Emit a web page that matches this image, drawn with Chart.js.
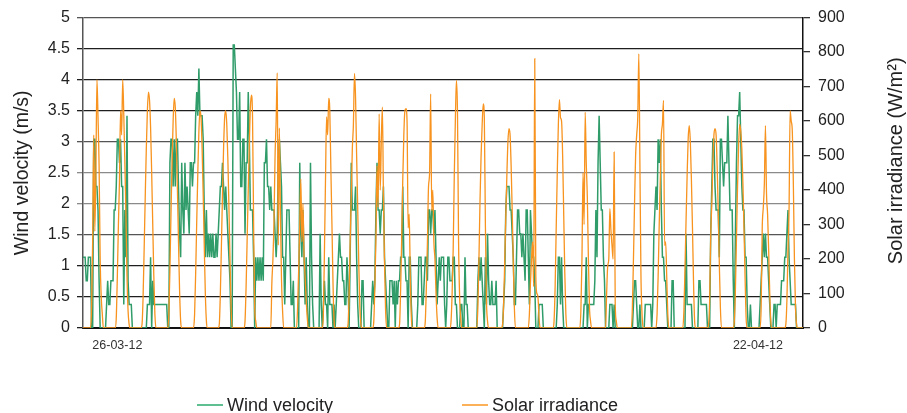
<!DOCTYPE html>
<html lang="en">
<head>
  <meta charset="UTF-8">
  <title>Wind velocity and solar irradiance</title>
  <style>
    body { margin: 0; background: #fff; }
    #wrap {
      position: relative;
      width: 907px;
      height: 413px;
      overflow: hidden;
      font-family: "Liberation Sans", Arial, sans-serif;
    }
    #chart { display: block; }
    .key {
      position: absolute;
      top: 396px;
      font-size: 18px;
      line-height: 18px;
      color: #222;
      white-space: nowrap;
    }
    .key i {
      position: absolute;
      left: -30px;
      top: 8px;
      width: 26px;
      height: 2px;
    }
  </style>
</head>
<body>
  <div id="wrap">
    <canvas id="chart" width="907" height="413"></canvas>
    <div class="key" style="left:227px"><i style="background:#5fbf90"></i>Wind velocity</div>
    <div class="key" style="left:492px"><i style="background:#fbb157"></i>Solar irradiance</div>
  </div>

  <script src="https://cdn.jsdelivr.net/npm/chart.js"></script>
  <script>
    // hourly readings, one row per day (24 values)
    const windVelocity = [
      1.14,1.14,1.14,0.76,0.76,1.14,1.14,1.14,0,0,3.04,3.04,2.28,2.28,1.9,0.76,0,0,0,0,0,0,0.38,0.76,
      0.38,0.38,0.76,0.76,0.76,1.9,1.9,2.28,3.04,3.04,2.66,3.04,2.28,2.28,0.38,1.9,1.14,3.42,0.76,0.38,0.38,0.38,0,0,
      0,0,0,0,0,0,0,0,0,0,0,0,0.38,0.38,0.38,1.14,0,0.76,0.38,0.38,0.38,0.38,0.38,0.38,
      0.38,0.38,0.38,0.38,0.38,0.38,0.38,0,0,2.66,3.04,3.04,2.28,3.04,2.28,3.04,3.04,2.28,1.52,1.14,2.66,1.9,1.52,2.66,
      1.9,2.28,1.9,1.52,2.66,2.66,2.28,2.66,2.66,3.42,3.8,3.42,4.18,3.42,3.42,3.42,3.04,1.9,1.14,1.9,1.14,1.52,1.14,1.52,
      1.14,1.52,1.14,1.14,1.52,1.14,1.52,1.9,2.28,2.28,2.66,2.28,1.9,2.28,1.9,1.52,1.14,0.76,0,0,4.56,4.56,4.18,3.8,
      3.04,3.04,3.8,2.28,2.28,3.04,3.04,1.52,2.66,2.66,3.8,3.04,1.9,1.9,1.9,1.14,0,1.14,0.76,1.14,0.76,1.14,0.76,1.14,
      0.76,2.66,2.66,3.04,2.28,2.28,1.9,2.28,1.9,1.9,1.9,1.52,1.14,1.52,2.66,3.04,2.66,2.28,1.14,1.14,0.38,1.14,1.9,1.9,
      1.9,1.14,0.38,0.38,0.76,0,0,0,0,0,2.66,1.52,1.14,1.9,1.14,0.38,1.14,0.38,0,0,2.66,1.14,0.38,0,
      0,0,0,0,0,1.52,0.38,0,0.38,0.76,0.38,0.38,0,1.14,0.38,0.38,0.38,0,0.38,0,0.38,0.76,1.14,1.52,
      1.14,1.14,0.76,0.76,0.38,0.38,1.14,0.76,0,1.14,2.66,1.9,1.9,1.9,2.28,1.14,0.38,0,0,0,0.76,0.76,0,0,
      0,0,0,0,0,0.38,0.76,0.38,0.76,1.9,2.66,1.9,1.9,1.52,1.9,1.9,2.28,1.14,0.76,0.38,0,0,0.76,0.76,
      0.76,0.38,0.76,0,0.76,0.38,0.76,0.76,1.14,1.14,2.28,1.14,1.14,0.76,0.76,0,1.14,1.14,0.38,0,0,0,0,0,
      0.38,1.14,1.14,1.14,0.38,0.38,0.76,1.14,1.14,0.76,1.9,1.9,1.52,1.9,1.9,1.52,1.9,1.14,0.38,0.76,1.14,0.76,1.14,1.14,
      1.14,0.38,0,0.38,1.14,1.14,0.76,0.76,0.76,1.14,1.14,0.38,0.38,0,0,0,0.38,0.38,0,0,1.14,0.38,0.38,0,
      0,0,0,0,0,0,0,0,0.76,1.14,0.76,1.14,0.76,0.38,0,1.14,0.38,1.52,0.76,0.38,0.38,0.76,0.38,0.38,
      0.38,0.76,0,0,0,0,0,0,0.38,0.76,1.9,2.28,2.28,2.28,1.9,1.9,1.52,1.14,0.38,0.38,1.14,1.9,1.9,1.52,
      1.52,1.14,1.52,1.14,0.76,1.9,1.9,1.14,0.38,1.9,1.52,1.14,1.14,0.76,0,0,0,0.38,0.38,0.38,0.38,0,0,0,
      0,0,0,0,0,0,0,0,0,0,0.38,1.14,1.14,0.38,1.14,0.38,0,0,0,0,0,0,0,0,
      0,0,0,0,0,0,0,0,0,0,0,0.38,0.38,1.14,0,0.38,0.38,0.38,0.38,0.38,0.38,0.76,1.9,1.14,
      2.66,3.42,2.66,1.9,1.9,1.14,0.76,0,0,0,0,0.38,0.38,0.38,0,0.38,0,0,0,0,0,0,0,0,
      0,0,0,0,0,0,0,0,0,0.38,0.76,0.76,0.38,0,0,0.38,0,0,0,0,0.38,0.38,0.38,0.38,
      0.38,0.38,0,0.38,1.52,1.9,2.28,1.9,3.04,2.66,3.04,1.9,1.14,1.14,0.76,0.76,0.38,0,0,0,0,0.76,0.76,0,
      0,0,0,0,0,0,0,0,0,0,1.52,0.38,0.38,0.38,0.38,0.38,0,0,0,0,0,0,0.76,0.76,
      0.38,0.38,0.38,0.38,0.38,0.38,0,0,0,1.52,2.28,3.04,3.04,2.28,1.9,1.9,1.9,1.14,3.04,3.04,2.66,2.28,2.66,2.66,
      2.66,3.42,2.66,1.9,1.9,1.9,0.76,0,1.52,2.66,3.42,3.42,3.8,3.04,2.28,1.9,1.9,1.14,1.14,0.38,0,0,0.38,0,
      0,0,0,0,0,0,0,0.38,0.76,1.14,1.52,1.14,1.52,1.14,1.14,0.76,0.38,0,0,0,0.38,0.38,0,0.38,
      0.38,0.38,0.38,0.76,0.76,0.76,1.14,1.14,1.52,1.9,1.14,0.76,0.38,0.38,0.38,0.38,0.38,0,0,0,0,0,0,0
    ];

    const solarIrradiance = [
      0,0,0,0,0,0,0,0,60,250,560,280,450,720,610,470,200,90,40,0,0,0,0,0,
      0,0,0,0,0,0,0,30,150,300,430,630,560,720,620,480,330,150,50,10,0,0,0,0,
      0,0,0,0,0,0,0,10,90,230,380,520,630,684,660,580,450,300,150,40,0,0,0,0,
      0,0,0,0,0,0,0,0,40,170,330,480,600,666,640,540,400,250,110,20,0,0,0,0,
      0,0,0,0,0,0,0,0,40,160,310,450,570,630,610,520,390,240,100,20,0,0,0,0,
      0,0,0,0,0,0,0,10,100,240,390,520,610,630,590,490,350,200,60,0,0,0,0,0,
      0,0,0,0,0,0,0,20,120,260,400,530,640,675,610,300,60,20,0,0,0,0,0,0,
      0,0,0,0,0,0,0,0,130,200,310,500,600,740,240,580,330,140,50,0,0,0,0,0,
      0,0,0,0,0,0,0,0,60,170,300,432,250,360,210,150,80,30,0,0,0,0,0,0,
      0,0,0,0,0,0,0,0,40,220,430,612,560,666,630,460,300,130,20,0,0,0,0,0,
      0,0,0,0,0,0,0,10,100,250,380,520,590,738,670,500,350,190,60,10,0,0,0,0,
      0,0,0,0,0,0,0,20,120,260,470,350,621,400,540,640,380,190,50,0,0,0,0,0,
      0,0,0,0,0,0,0,10,110,260,430,560,630,636,600,290,330,150,30,0,0,0,0,0,
      0,0,0,0,0,0,0,20,120,250,410,450,679,340,400,250,200,100,30,0,0,0,0,0,
      0,0,0,0,0,0,0,20,100,230,440,600,718,626,254,90,30,0,0,0,0,0,0,0,
      0,0,0,0,0,0,0,0,60,200,370,500,590,650,612,300,80,20,0,0,0,0,0,0,
      0,0,0,0,0,0,0,10,70,190,320,440,540,578,560,470,340,190,60,0,0,0,0,0,
      0,0,0,0,0,0,0,0,40,130,200,250,120,781,150,100,90,30,0,0,0,0,0,0,
      0,0,0,0,0,0,0,20,120,290,450,590,662,610,600,500,330,160,40,0,0,0,0,0,
      0,0,0,0,0,0,0,0,50,200,450,300,626,480,380,200,60,20,0,0,0,0,0,0,
      0,0,0,0,0,0,0,0,100,180,200,346,284,240,200,510,71,20,0,0,0,0,0,0,
      0,0,0,0,0,0,0,0,60,200,360,500,560,612,795,477,149,40,0,0,0,0,0,0,
      0,0,0,0,0,0,0,40,150,300,430,560,592,660,240,250,150,40,0,0,0,0,0,0,
      0,0,0,0,0,0,0,0,50,170,310,440,550,587,540,430,290,130,20,0,0,0,0,0,
      0,0,0,0,0,0,0,10,80,270,360,480,560,578,560,470,340,190,60,0,0,0,0,0,
      0,0,0,0,0,0,0,20,110,260,410,530,590,570,520,420,290,150,30,0,0,0,0,0,
      0,0,0,0,0,0,0,0,60,290,350,420,587,390,330,226,100,20,0,0,0,0,0,0,
      0,0,0,0,0,0,0,10,80,226,342,630,600,573,420,200,60,10,0,0,0,0,0,0
    ];

    // which hourly slots carry a date label on the x axis
    const dateTickAt = [32, 629];
    const dateTickText = ['26-03-12', '22-04-12'];

    const windMax = 5, windStep = 0.5;
    const solarMax = 900, solarStep = 100;

    const hours = windVelocity.map((v, i) => i);

    Chart.defaults.font.family = '"Liberation Sans", Arial, sans-serif';
    Chart.defaults.color = '#222';

    function gridShade(ctx) {
      const v = ctx.tick ? ctx.tick.value : 0;
      if (v === 2 || v === 2.5) return '#8a8a8a';
      if (v === 1.5 || v === 3 || v === 5) return '#555';
      return '#1e1e1e';
    }

    // right axis title reads bottom to top, same as the left one
    const rightTitle = {
      id: 'rightTitle',
      afterDraw(chart) {
        const ctx = chart.ctx;
        const area = chart.chartArea;
        ctx.save();
        ctx.translate(chart.width - 5, (area.top + area.bottom) / 2 - 12);
        ctx.rotate(-Math.PI / 2);
        ctx.font = '20px "Liberation Sans", Arial, sans-serif';
        ctx.fillStyle = '#222';
        ctx.textAlign = 'center';
        ctx.textBaseline = 'alphabetic';
        ctx.fillText('Solar irradiance (W/m\u00B2)', 0, 0);
        ctx.restore();
      }
    };

    const chart = new Chart(document.getElementById('chart'), {
      type: 'line',
      data: {
        labels: hours,
        datasets: [
          {
            label: 'Wind velocity',
            data: windVelocity,
            yAxisID: 'y',
            borderColor: '#2f9c69',
            borderWidth: 1.5,
            pointRadius: 0,
            order: 1
          },
          {
            label: 'Solar irradiance',
            data: solarIrradiance,
            yAxisID: 'y2',
            borderColor: '#f7931e',
            borderWidth: 1.3,
            pointRadius: 0,
            cubicInterpolationMode: 'monotone',
            order: 0
          }
        ]
      },
      options: {
        responsive: false,
        animation: false,
        layout: { padding: { top: 17, bottom: 55, left: 0, right: 0 } },
        elements: { line: { tension: 0 } },
        plugins: {
          legend: { display: false },
          tooltip: { enabled: false }
        },
        scales: {
          x: {
            type: 'category',
            grid: { display: false, drawTicks: false },
            border: { display: true, color: '#111', width: 2 },
            ticks: {
              autoSkip: false,
              maxRotation: 0,
              padding: 10,
              color: '#333',
              font: { size: 12.5 },
              callback: (v, i) => {
                const k = dateTickAt.indexOf(i);
                return k < 0 ? null : dateTickText[k];
              }
            },
            afterFit: s => { s.height = 30; }
          },
          y: {
            position: 'left',
            min: 0,
            max: windMax,
            ticks: {
              stepSize: windStep,
              padding: 7,
              font: { size: 16 },
              callback: v => String(v)
            },
            grid: { color: gridShade, lineWidth: 1.3, tickLength: 6 },
            border: { color: '#555', width: 1.5 },
            title: {
              display: true,
              text: 'Wind velocity (m/s)',
              font: { size: 19.5 },
              padding: { top: 11, bottom: 0 }
            },
            afterFit: s => { s.width = 83; }
          },
          y2: {
            position: 'right',
            min: 0,
            max: solarMax,
            ticks: { stepSize: solarStep, padding: 8, font: { size: 16 } },
            grid: { drawOnChartArea: false, color: '#333', lineWidth: 1.3, tickLength: 7 },
            border: { color: '#111', width: 1.5 },
            afterFit: s => { s.width = 104; }
          }
        }
      },
      plugins: [rightTitle]
    });
  </script>
</body>
</html>
